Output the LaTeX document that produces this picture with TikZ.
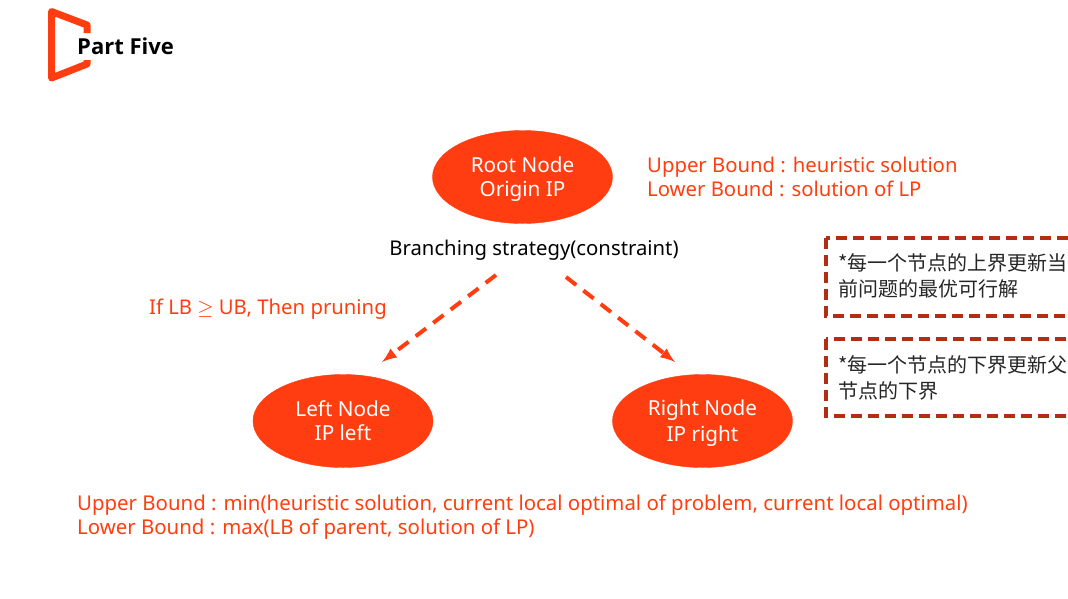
\documentclass[tikz,border=0pt]{standalone}
\usetikzlibrary{shapes.geometric}
\usepackage{fontspec}
\setmainfont{Noto Sans}
\newfontfamily\cjk{Noto Sans CJK SC}
\newfontfamily\titlefont{Open Sans}
\usepackage{amsmath}
\definecolor{nodeorange}{HTML}{FF3D10}
\definecolor{boxred}{HTML}{B32D12}
\newcommand{\ipstrut}{\rule[-4.2pt]{0pt}{24pt}}
\begin{document}
\begin{tikzpicture}
            [x=1pt,y=-1pt,
                ipnode/.style={ellipse,fill=nodeorange,draw=nodeorange,minimum width=180pt,minimum height=93pt,inner sep=0pt,text=white,align=center,font=\fontsize{20.7}{24}\selectfont},
                bound/.style={text=nodeorange,align=left,inner sep=0pt,font=\fontsize{20.3}{24.5}\selectfont},
                branch/.style={->,>=latex,nodeorange,line width=4pt,dash pattern=on 13pt off 9pt},
                notebox/.style={draw=boxred,line width=3.6pt,dash pattern=on 11pt off 6pt},
                note/.style={text=black!85,align=left,inner sep=0pt,font=\cjk\fontsize{20}{26}\selectfont}]
            \useasboundingbox (0,0) rectangle (1068,598);
            %logo and title
            \draw[nodeorange,line width=7pt,line join=round] (87,33) -- (87,25) -- (51.5,11.5) -- (51.5,78) -- (87,64) -- (87,60);
            \node[anchor=west,inner sep=0pt,font=\titlefont\bfseries\fontsize{22}{25}\selectfont] (title) at (77,46) {Part Five};
            %the three nodes
            \node[ipnode] (root) at (522.5,177) {\ipstrut Root Node\\\ipstrut Origin IP};
            \node[ipnode] (left) at (343,421) {\ipstrut Left Node\\\ipstrut IP left};
            \node[ipnode] (right) at (702.5,421) {\ipstrut Right Node\\\ipstrut IP right};
            %labels
            \node[inner sep=0pt,font=\fontsize{20.3}{24}\selectfont] (strategy) at (534,250) {Branching strategy(constraint)};
            \node[bound,anchor=west] (rootbound) at (647,177) {Upper Bound : heuristic solution\\Lower Bound : solution of LP};
            \node[bound,anchor=west] (prune) at (149,309) {If LB $\geq$ UB, Then pruning};
            \node[bound,anchor=west,font=\fontsize{20.4}{24.5}\selectfont] (childbound) at (77,517) {Upper Bound : min(heuristic solution, current local optimal of problem, current local optimal)\\Lower Bound : max(LB of parent, solution of LP)};
            %arrows
            \coordinate (lstart) at (496,275);
            \coordinate (lend) at (382,362);
            \coordinate (rstart) at (566,277);
            \coordinate (rend) at (675,362);
            \draw[branch] (lstart) -- (lend);
            \draw[branch] (rstart) -- (rend);
            %dashed notes
            \draw[notebox] (826,238) rectangle (1090,316);
            \draw[notebox] (826,339) rectangle (1090,416);
            \node[note,anchor=west] (upnote) at (838,276) {*每一个节点的上界更新当\\前问题的最优可行解};
            \node[note,anchor=west] (lownote) at (838,378) {*每一个节点的下界更新父\\节点的下界};
        \end{tikzpicture}
\end{document}
